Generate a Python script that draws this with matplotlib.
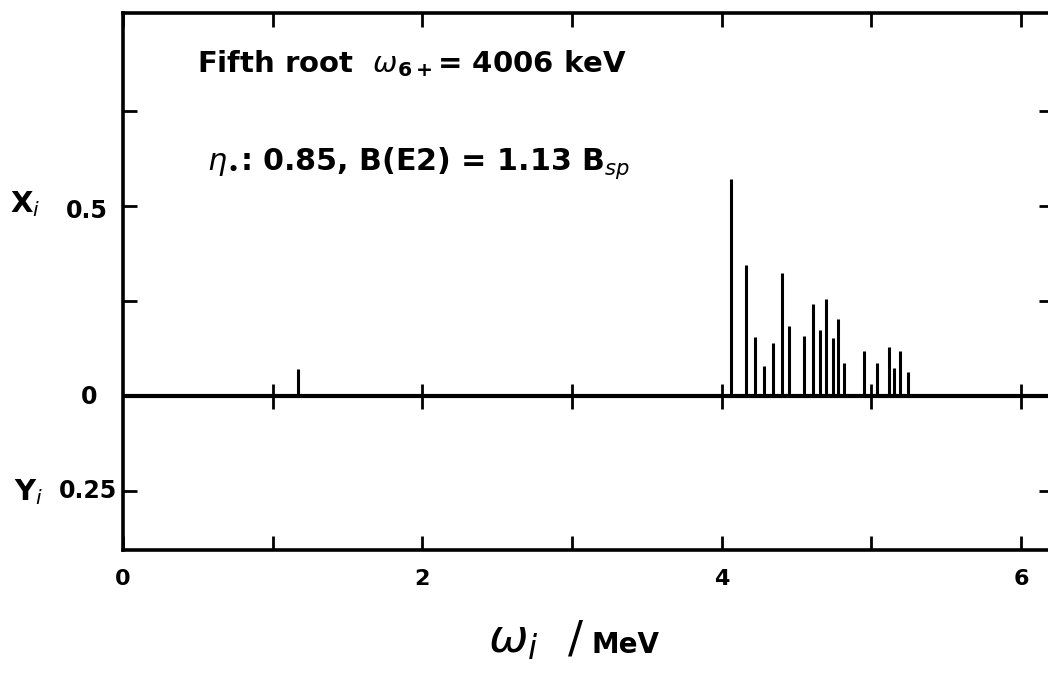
"""Amplitude spectrum for the fifth root (X_i above the axis, Y_i below)."""

import matplotlib.pyplot as plt

# excitation energies (MeV) and forward amplitudes X_i
omega_i = [1.171, 4.060, 4.163, 4.223, 4.285, 4.345, 4.405, 4.452, 4.550,
           4.608, 4.657, 4.695, 4.742, 4.777, 4.819, 4.951, 5.036, 5.120,
           5.153, 5.191, 5.247]
x_amp = [0.072, 0.572, 0.346, 0.156, 0.080, 0.140, 0.324, 0.186, 0.159,
         0.243, 0.175, 0.256, 0.153, 0.205, 0.087, 0.120, 0.087, 0.131,
         0.074, 0.120, 0.064]

x_ticks = [0, 1, 2, 3, 4, 5, 6]
x_ticklabels = ["0", "", "2", "", "4", "", "6"]
y_ticks = [-0.25, 0, 0.25, 0.5, 0.75]

W, H = 1048, 681
fig = plt.figure(figsize=(W / 100, H / 100), dpi=100)


def fx(px):
    return px / W


def fy(py):
    return 1 - py / H


# axes frame runs slightly past the right edge of the figure
ax = fig.add_axes([fx(123), fy(550), fx(1053 - 123), fy(13) - fy(550)])
ax.set_xlim(0, 6.214)
ax.set_ylim(-0.404, 1.009)

ax.vlines(omega_i, 0, x_amp, color="black", lw=2.2)
ax.axhline(0, color="black", lw=3)
# crossing ticks on the zero line
ax.plot(x_ticks[1:], [0] * 6, ls="none", marker="|", ms=18, mew=2,
        color="black")

for s in ax.spines.values():
    s.set_linewidth(2.6)

ax.set_xticks(x_ticks)
ax.set_xticklabels(x_ticklabels, fontsize=16, fontweight="bold")
ax.set_yticks(y_ticks)
ax.set_yticklabels([])
ax.tick_params(direction="in", length=10, width=2, top=True, right=True,
               pad=14)

bold = dict(fontweight="bold", color="black")

# y axis annotations
fig.text(fx(10), fy(204), r"X$_i$", fontsize=21, ha="left", va="center", **bold)
fig.text(fx(108), fy(211), "0.5", fontsize=17, ha="right", va="center", **bold)
fig.text(fx(97), fy(397), "0", fontsize=17, ha="right", va="center", **bold)
fig.text(fx(14), fy(492), r"Y$_i$", fontsize=21, ha="left", va="center", **bold)
fig.text(fx(117), fy(491), "0.25", fontsize=17, ha="right", va="center", **bold)

# x axis label
fig.text(fx(488), fy(640), r"$\omega_i$", fontsize=34, ha="left", va="center")
fig.text(fx(576), fy(640), "/", fontsize=32, ha="center", va="center")
fig.text(fx(592), fy(645), "MeV", fontsize=20, ha="left", va="center", **bold)

# root annotations
fig.text(fx(197), fy(64), r"Fifth root  $\omega_{\mathbf{6+}}$= 4006 keV",
         fontsize=21, ha="left", va="center", **bold)
fig.text(fx(207), fy(163), r"$\eta_{\bullet}$: 0.85, B(E2) = 1.13 B$_{sp}$",
         fontsize=21.7, ha="left", va="center", **bold)

fig.savefig("out.png", dpi=100)
